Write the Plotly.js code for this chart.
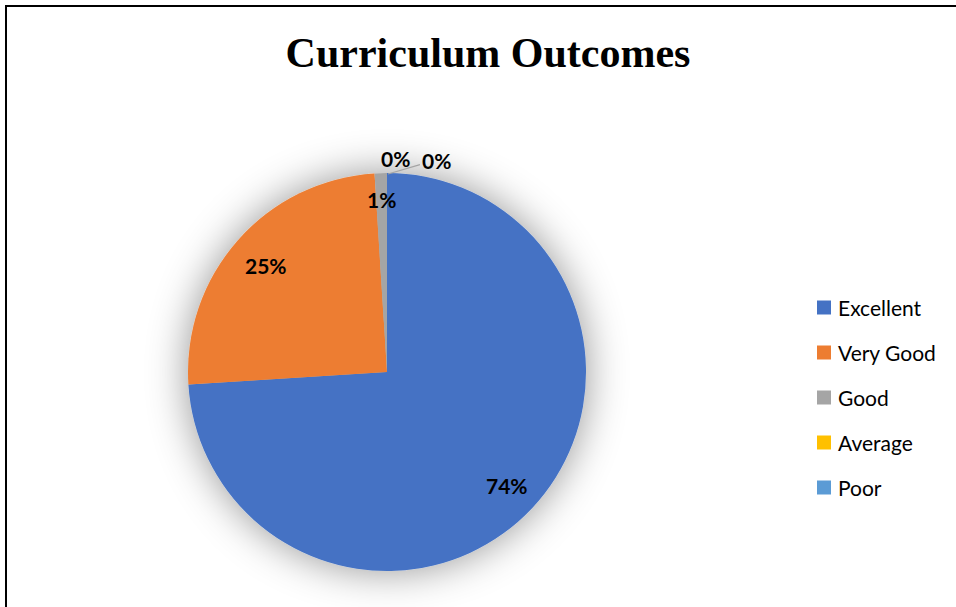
<!DOCTYPE html>
<html>
<head>
<meta charset="utf-8">
<script src="https://cdn.plot.ly/plotly-3.0.1.min.js"></script>
<style>
  html, body { margin: 0; padding: 0; background: #fff; }
  #wrap { position: relative; width: 956px; height: 607px; overflow: hidden; }
  #chart { width: 956px; height: 607px; }
  #frame { position: absolute; left: 5px; top: 5px; width: 1000px; height: 700px;
           border-left: 2px solid #000; border-top: 2px solid #000; pointer-events: none; }
</style>
</head>
<body>
<div id="wrap">
  <div id="chart"></div>
  <div id="frame"></div>
</div>
<script>
// ---- data ----
const categories = ["Excellent", "Very Good", "Good", "Average", "Poor"];
const values = [74, 25, 1.0, 0, 0];
const colors = ["#4472C4", "#ED7D31", "#A5A5A5", "#FFC000", "#5B9BD5"];
const chartTitle = "Curriculum Outcomes";

// ---- layout constants (pixels) ----
const W = 956, H = 607;
const CX = 387, CY = 372, R = 199;
const px = x => x / W;
const py = y => 1 - y / H;

const total = values.reduce((a, b) => a + b, 0);
const pctText = v => Math.round(v / total * 100) + "%";

const labelFont = { family: "Lato, 'Open Sans', sans-serif", size: 21, color: "#000" };
const labelR = [0.83, 0.81, 0.865];

const annotations = [];
// inside labels at slice mid-angles (clockwise from 12 o'clock)
let cum = 0;
values.forEach((v, i) => {
  const mid = (cum + v / 2) / total * 2 * Math.PI;
  cum += v;
  if (i < 3) {
    annotations.push({
      xref: "paper", yref: "paper", showarrow: false,
      x: px(CX + R * labelR[i] * Math.sin(mid)),
      y: py(CY - R * labelR[i] * Math.cos(mid)),
      text: "<b>" + pctText(v) + "</b>", font: labelFont,
      xanchor: "center", yanchor: "middle"
    });
  }
});
// zero-value labels outside at the top
const topEdge = CY - R;
annotations.push({
  xref: "paper", yref: "paper", showarrow: false,
  x: px(CX + 8), y: py(topEdge - 15),
  text: "<b>" + pctText(values[3]) + "</b>", font: labelFont,
  xanchor: "center", yanchor: "middle"
});
annotations.push({
  xref: "paper", yref: "paper", showarrow: true,
  x: px(CX + 1), y: py(topEdge + 1),
  ax: 48, ay: -14,
  arrowhead: 0, arrowwidth: 1.2, arrowcolor: "#A5A5A5", standoff: 0,
  text: "<b>" + pctText(values[4]) + "</b>", font: labelFont,
  xanchor: "center", yanchor: "middle"
});

// manual legend (squares + text), 45px rows
const shapes = [];
const legX = 817, legY0 = 307.5, legGap = 45, sq = 14;
categories.forEach((c, i) => {
  const yc = legY0 + i * legGap;
  shapes.push({
    type: "rect", xref: "paper", yref: "paper",
    x0: px(legX), x1: px(legX + sq), y0: py(yc + sq / 2), y1: py(yc - sq / 2),
    fillcolor: colors[i], line: { width: 0 }
  });
  annotations.push({
    xref: "paper", yref: "paper", showarrow: false,
    x: px(legX + sq + 5), y: py(yc), xanchor: "left", yanchor: "middle",
    text: c, font: { family: "Lato, 'Open Sans', sans-serif", size: 21, color: "#000" }
  });
});

const trace = {
  type: "pie",
  labels: categories,
  values: values,
  marker: { colors: colors, line: { width: 0 } },
  sort: false,
  direction: "clockwise",
  rotation: 0,
  textinfo: "none",
  hoverinfo: "label+percent",
  showlegend: false,
  domain: { x: [px(CX - R), px(CX + R)], y: [py(CY + R), py(CY - R)] }
};

const layout = {
  width: W, height: H,
  margin: { l: 0, r: 0, t: 0, b: 0 },
  paper_bgcolor: "#fff",
  title: {
    text: "<b>" + chartTitle + "</b>",
    font: { family: "'Liberation Serif', 'Times New Roman', serif", size: 42, color: "#000" },
    x: px(488), xanchor: "center", y: py(52), yanchor: "middle", xref: "paper", yref: "paper"
  },
  showlegend: false,
  annotations: annotations,
  shapes: shapes
};

Plotly.newPlot("chart", [trace], layout, { displayModeBar: false, staticPlot: true }).then(gd => {
  const svg = gd.querySelector(".main-svg");
  const NS = "http://www.w3.org/2000/svg";
  let defs = svg.querySelector("defs");
  if (!defs) { defs = document.createElementNS(NS, "defs"); svg.insertBefore(defs, svg.firstChild); }
  const f = document.createElementNS(NS, "filter");
  f.setAttribute("id", "pieShadow");
  f.setAttribute("x", "-40%"); f.setAttribute("y", "-40%");
  f.setAttribute("width", "180%"); f.setAttribute("height", "180%");
  const ds = document.createElementNS(NS, "feDropShadow");
  ds.setAttribute("dx", "0"); ds.setAttribute("dy", "0");
  ds.setAttribute("stdDeviation", "20");
  ds.setAttribute("flood-color", "#000"); ds.setAttribute("flood-opacity", "0.42");
  f.appendChild(ds);
  defs.appendChild(f);
  const tr = svg.querySelector(".pielayer .trace");
  if (tr) tr.setAttribute("filter", "url(#pieShadow)");
});
</script>
</body>
</html>
